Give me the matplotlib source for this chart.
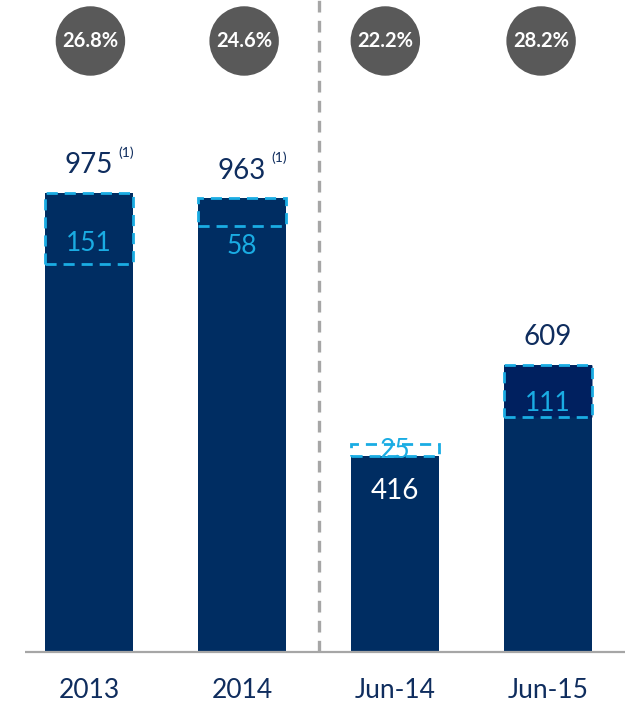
import matplotlib
matplotlib.use("Agg")
import matplotlib.pyplot as plt
from matplotlib.patches import Rectangle
from matplotlib.transforms import offset_copy

categories = ["2013", "2014", "Jun-14", "Jun-15"]
totals = [975, 963, 416, 609]
dashed = [151, 58, 25, 111]
dashed_inside = [True, True, False, True]
pct = ["26.8%", "24.6%", "22.2%", "28.2%"]
notes = ["(1)", "(1)", "", ""]

NAVY = "#002D62"
NAVY_BOX = "#00205F"
LBLUE = "#1AACE3"
TXT = "#0F2D5E"
GRAY = "#A6A6A6"
CIRC = "#595959"

plt.rcParams['font.family'] = ['Lato', 'DejaVu Sans']

fig = plt.figure(figsize=(6.25, 7.04), dpi=100)
ax = fig.add_axes([0, 0, 1, 1])
ax.set_xlim(-0.582, 3.503)
ax.set_ylim(-110.4, 1384)
ax.axis("off")

w = 0.575
x = list(range(len(categories)))

ax.bar(x, totals, width=w, color=NAVY, zorder=2)

# baseline
ax.plot([-0.418, 3.503], [0, 0], color=GRAY, lw=1.6, zorder=3, solid_capstyle="butt")
# divider
ax.plot([1.5, 1.5], [0, 1384], color=GRAY, lw=2.4, ls=(0, (3.5, 2.5)), zorder=1)

inner_off = [-11, -25, 0, -9]  # label offsets in points (style)
for i in x:
    if dashed_inside[i]:
        y0 = totals[i] - dashed[i]
        fc = NAVY_BOX if i == 3 else "none"
    else:
        y0 = totals[i]
        fc = "none"
    r = Rectangle((i - w / 2, y0), w, dashed[i], facecolor=fc, edgecolor=LBLUE,
                  lw=2.0, ls=(0, (4, 2.5)), zorder=4)
    ax.add_patch(r)
    ax.annotate(str(dashed[i]), (i, y0 + dashed[i] / 2), xytext=(0, inner_off[i]),
                textcoords="offset points", ha="center", va="center",
                color=LBLUE, fontsize=19, zorder=5)
    top = max(totals[i], y0 + dashed[i])
    if dashed_inside[i]:
        ax.annotate(str(totals[i]), (i, top), xytext=(0, 20), textcoords="offset points",
                    ha="center", va="center", color=TXT, fontsize=20)
        if notes[i]:
            ax.annotate(notes[i], (i, top), xytext=(27, 29), textcoords="offset points",
                        ha="center", va="center", color=TXT, fontsize=10)
    else:
        ax.annotate(str(totals[i]), (i, totals[i]), xytext=(0, -25), textcoords="offset points",
                    ha="center", va="center", color="white", fontsize=20, zorder=5)
    # category label
    ax.text(i, -81, categories[i], ha="center", va="center", color=TXT, fontsize=19)

circ_off = [1, 1.5, -7, -5]  # horizontal nudges in points (style)
for i in x:
    tr = offset_copy(ax.transData, fig=fig, x=circ_off[i], y=0, units="points")
    ax.scatter([i], [1297], s=2500, color=CIRC, zorder=5, edgecolors="none",
               transform=tr)
    ax.text(i, 1297, pct[i], transform=tr, ha="center", va="center", color="white",
            fontsize=14.5, fontweight="bold", zorder=6)

fig.savefig("out.png", dpi=100)
